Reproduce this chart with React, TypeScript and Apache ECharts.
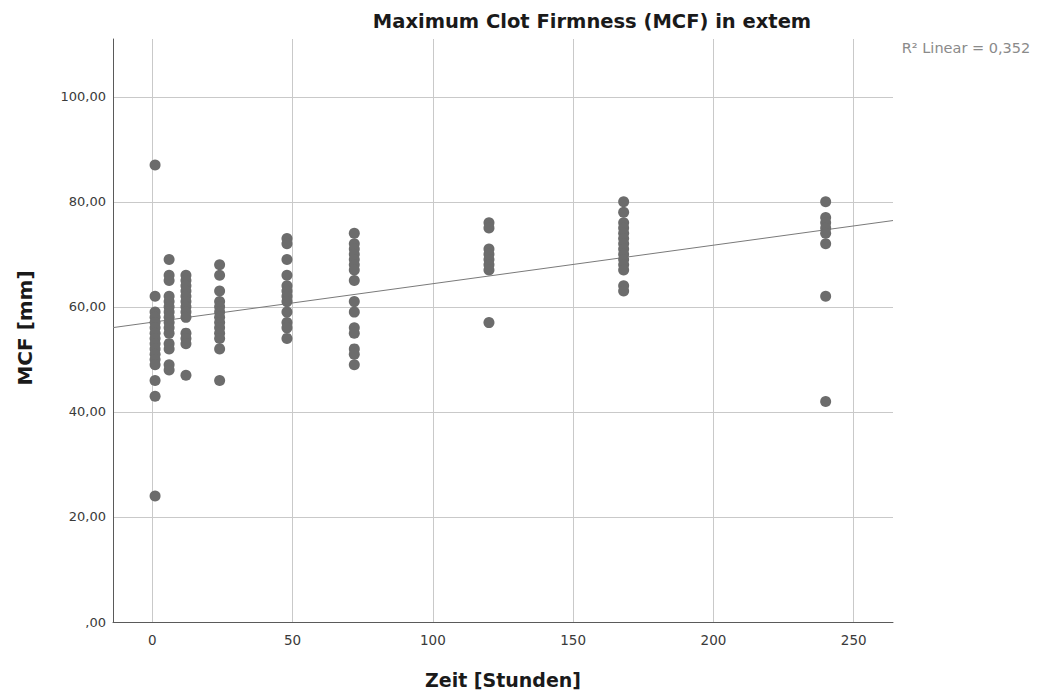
import React, { useEffect, useRef } from "react";
import * as echarts from "echarts";

// Measurement times in hours
const hours = [1, 6, 12, 24, 48, 72, 120, 168, 240];

// MCF (mm) per measurement time
const mcf1 = [87, 62, 59, 58, 57, 56, 55, 54, 53, 52, 51, 50, 49, 46, 43, 24];
const mcf6 = [69, 66, 65, 62, 61, 60, 59, 58, 57, 56, 55, 53, 52, 49, 48];
const mcf12 = [66, 65, 64, 63, 62, 61, 60, 59, 58, 55, 54, 53, 47];
const mcf24 = [68, 66, 63, 61, 60, 59, 58, 57, 56, 55, 54, 52, 46];
const mcf48 = [73, 72, 69, 66, 64, 63, 62, 61, 59, 57, 56, 54];
const mcf72 = [74, 72, 71, 70, 69, 68, 67, 65, 61, 59, 56, 55, 52, 51, 49];
const mcf120 = [76, 75, 71, 70, 69, 68, 67, 57];
const mcf168 = [80, 78, 76, 75, 74, 73, 72, 71, 70, 69, 68, 67, 64, 63];
const mcf240 = [80, 77, 76, 75, 74, 72, 62, 42];

const groups = [mcf1, mcf6, mcf12, mcf24, mcf48, mcf72, mcf120, mcf168, mcf240];

// Axis ticks
const xTicks = [0, 50, 100, 150, 200, 250];
const yTicks = [0, 20, 40, 60, 80, 100];
const xRange = [-14, 264];
const yRange = [0, 111];

const titleText = "Maximum Clot Firmness (MCF) in extem";
const xName = "Zeit [Stunden]";
const yName = "MCF [mm]";
const r2Text = "R\u00B2 Linear = 0,352";

const FONT = "DejaVu Sans";

function buildPoints(): number[][] {
  const pts: number[][] = [];
  groups.forEach((vals, i) => vals.forEach((v) => pts.push([hours[i], v])));
  return pts;
}

// Ordinary least squares fit
function fit(pts: number[][]) {
  const n = pts.length;
  const mx = pts.reduce((s, p) => s + p[0], 0) / n;
  const my = pts.reduce((s, p) => s + p[1], 0) / n;
  let sxy = 0;
  let sxx = 0;
  pts.forEach(([x, y]) => {
    sxy += (x - mx) * (y - my);
    sxx += (x - mx) * (x - mx);
  });
  const b = sxy / sxx;
  return { a: my - b * mx, b };
}

function fmtY(v: number) {
  if (v === 0) return ",00";
  return v.toFixed(2).replace(".", ",");
}

export default function App() {
  const ref = useRef<HTMLDivElement>(null);

  useEffect(() => {
    if (!ref.current) return;
    const chart = echarts.init(ref.current, null, { renderer: "svg" });
    const pts = buildPoints();
    const { a, b } = fit(pts);
    const fitLine = xRange.map((x) => [x, a + b * x]);

    const gridColor = "#c9c9c9";
    const axisColor = "#5a5a5a";

    chart.setOption({
      animation: false,
      backgroundColor: "#ffffff",
      grid: {
        left: 113,
        top: 39,
        right: 144,
        bottom: 73,
        containLabel: false,
        outerBoundsMode: "none",
      },
      xAxis: {
        type: "value",
        min: xRange[0],
        max: xRange[1],
        axisLine: { show: true, lineStyle: { color: axisColor, width: 1 } },
        axisTick: { show: false, customValues: xTicks },
        axisLabel: {
          customValues: xTicks,
          color: "#3a3a3a",
          fontFamily: FONT,
          fontSize: 13.5,
          margin: 11,
        },
        splitLine: { show: true, lineStyle: { color: gridColor, width: 1 } },
      },
      yAxis: {
        type: "value",
        min: yRange[0],
        max: yRange[1],
        axisLine: { show: true, onZero: false, lineStyle: { color: axisColor, width: 1 } },
        axisTick: { show: false, customValues: yTicks },
        axisLabel: {
          customValues: yTicks,
          formatter: fmtY,
          color: "#3a3a3a",
          fontFamily: FONT,
          fontSize: 13,
          margin: 7,
        },
        splitLine: { show: true, lineStyle: { color: gridColor, width: 1 } },
      },
      series: [
        {
          type: "line",
          data: fitLine,
          symbol: "none",
          lineStyle: { color: "#7a7a7a", width: 1 },
          silent: true,
          z: 3,
        },
        {
          type: "scatter",
          data: pts,
          symbol: "circle",
          symbolSize: 11,
          itemStyle: { color: "#6c6c6c", opacity: 1 },
          z: 4,
        },
      ],
      graphic: [
        {
          type: "text",
          x: 592,
          y: 21,
          style: {
            text: titleText,
            fontFamily: FONT,
            fontWeight: "bold",
            fontSize: 19.5,
            fill: "#1a1a1a",
            textAlign: "center",
            textVerticalAlign: "middle",
          },
        },
        {
          type: "text",
          x: 503,
          y: 680,
          style: {
            text: xName,
            fontFamily: FONT,
            fontWeight: "bold",
            fontSize: 19,
            fill: "#1a1a1a",
            textAlign: "center",
            textVerticalAlign: "middle",
          },
        },
        {
          type: "text",
          x: 25,
          y: 328,
          rotation: Math.PI / 2,
          style: {
            text: yName,
            fontFamily: FONT,
            fontWeight: "bold",
            fontSize: 20,
            fill: "#1a1a1a",
            textAlign: "center",
            textVerticalAlign: "middle",
          },
        },
        {
          type: "text",
          x: 966,
          y: 48,
          style: {
            text: r2Text,
            fontFamily: FONT,
            fontSize: 14.5,
            fill: "#8a8a8a",
            textAlign: "center",
            textVerticalAlign: "middle",
          },
        },
      ],
    });

    return () => chart.dispose();
  }, []);

  return (
    <div
      ref={ref}
      style={{ position: "absolute", left: 0, top: 0, width: 1037, height: 695 }}
    />
  );
}
